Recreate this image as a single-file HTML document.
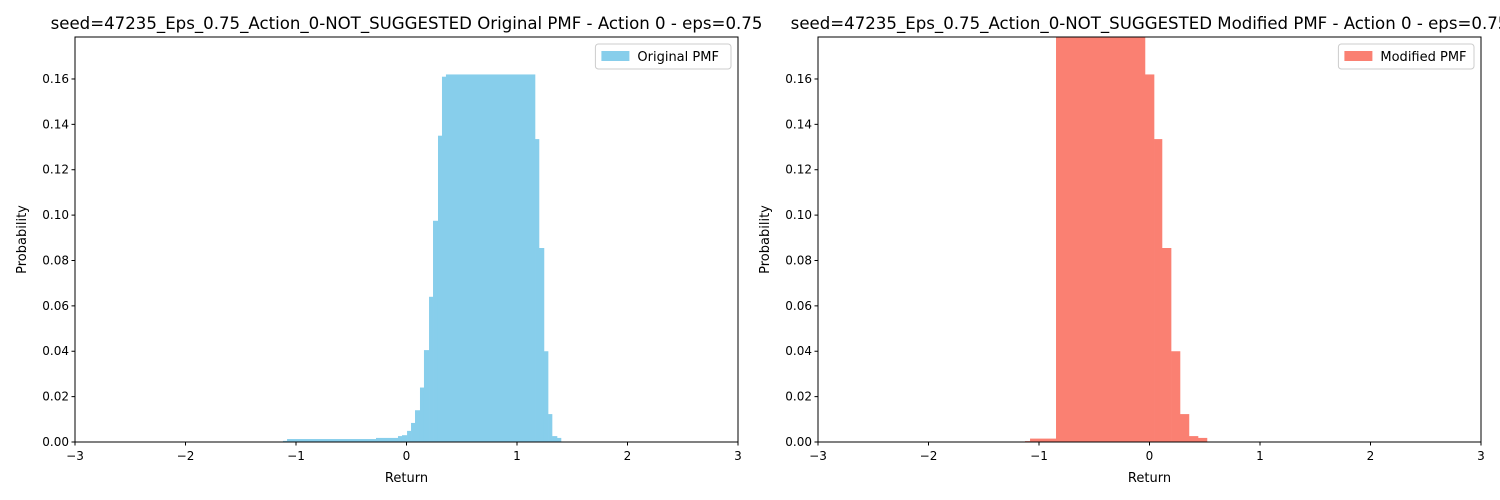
<!DOCTYPE html>
<html><head><meta charset="utf-8"><style>
html,body{margin:0;padding:0;background:#fff;width:1500px;height:500px;overflow:hidden}
svg{display:block;font-family:"DejaVu Sans","Liberation Sans",sans-serif}
</style></head><body>
<svg id="chart" width="1500" height="500"></svg>
<script>
const yTicks=[0,0.02,0.04,0.06,0.08,0.10,0.12,0.14,0.16];
const yTickLabels=["0.00","0.02","0.04","0.06","0.08","0.10","0.12","0.14","0.16"];
const xTicks=[-3,-2,-1,0,1,2,3];
const xTickLabels=["\u22123","\u22122","\u22121","0","1","2","3"];
const origLeft=[-1.118,-1.081,-0.276,-0.077,-0.041,0.005,0.041,0.077,0.122,0.158,0.204,0.240,0.285,0.321,0.357,1.163,1.199,1.244,1.281,1.317,1.362];
const origRight=[-1.081,-0.276,-0.077,-0.041,0.005,0.041,0.077,0.122,0.158,0.204,0.240,0.285,0.321,0.357,1.163,1.199,1.244,1.281,1.317,1.362,1.398];
const origProb=[0.0005,0.0013,0.0018,0.0026,0.003,0.0049,0.0084,0.014,0.024,0.0405,0.064,0.0975,0.135,0.161,0.162,0.1335,0.0855,0.040,0.0123,0.0026,0.0018];
const modLeft=[-1.127,-1.081,-0.846,-0.041,0.041,0.113,0.195,0.276,0.357,0.439];
const modRight=[-1.081,-0.846,-0.041,0.041,0.113,0.195,0.276,0.357,0.439,0.520];
const modProb=[0.0004,0.0015,0.25,0.162,0.1335,0.0855,0.040,0.0123,0.0026,0.0018];

const NS="http://www.w3.org/2000/svg";
const svg=document.getElementById('chart');
function mk(tag,attrs,parent){const e=document.createElementNS(NS,tag);for(const k in attrs)e.setAttribute(k,attrs[k]);(parent||svg).appendChild(e);return e;}
const Y0=442,Y1=37,YMAX=0.1785;
function panel(x0,x1,lefts,rights,probs,color,title,legendLabel,prefix){
  const g=mk('g',{});
  
  
  const sx=v=>x0+(v+3)/6*(x1-x0);
  const sy=v=>Y0-v/YMAX*(Y0-Y1);
  const cp=mk('clipPath',{id:prefix+'clip'},g);
  mk('rect',{x:x0,y:Y1,width:x1-x0,height:Y0-Y1},cp);
  const bars=mk('g',{'clip-path':'url(#'+prefix+'clip)'},g);
  for(let i=0;i<probs.length;i++){
    const r=mk('rect',{x:sx(lefts[i]),y:sy(probs[i]),width:sx(rights[i])-sx(lefts[i])+0.3,height:Y0-sy(probs[i]),fill:color},bars);
    
    
  }
  mk('rect',{x:x0,y:Y1,width:x1-x0,height:Y0-Y1,fill:'none',stroke:'#000','stroke-width':1},g);
  yTicks.forEach((t,i)=>{
    const y=sy(t);
    mk('line',{x1:x0-3.5,x2:x0,y1:y,y2:y,stroke:'#000'},g);
    const tx=mk('text',{x:x0-6,y:y+4,'font-size':12,'text-anchor':'end'},g);
    tx.textContent=yTickLabels[i];
    
    
  });
  xTicks.forEach((t,i)=>{
    const x=sx(t);
    mk('line',{x1:x,x2:x,y1:Y0,y2:Y0+3.5,stroke:'#000'},g);
    const tx=mk('text',{x:x,y:Y0+18,'font-size':12,'text-anchor':'middle'},g);
    tx.textContent=xTickLabels[i];
    
    
  });
  const xt=mk('text',{x:(x0+x1)/2,y:482,'font-size':13,'text-anchor':'middle'},g);
  xt.textContent='Return';
  
  
  const yt=mk('text',{x:0,y:0,'font-size':13,'text-anchor':'middle',transform:'translate('+(x0-49)+','+((Y0+Y1)/2)+') rotate(-90)'},g);
  yt.textContent='Probability';
  
  
  const tt=mk('text',{x:(x0+x1)/2,y:29,'font-size':16.6,'text-anchor':'middle'},g);
  tt.textContent=title;
  
  
  const lw=legendLabel.length*7.3+48;
  const lg=mk('g',{},g);
  
  
  mk('rect',{x:x1-7-lw,y:44,width:lw,height:25,rx:3,fill:'#fff',stroke:'#ccc'},lg);
  mk('rect',{x:x1-7-lw+6,y:51,width:28,height:10,fill:color},lg);
  const lt=mk('text',{x:x1-7-lw+42,y:61,'font-size':13},lg);
  lt.textContent=legendLabel;
  
  
}
panel(75,738,origLeft,origRight,origProb,'#87ceeb','seed=47235_Eps_0.75_Action_0-NOT_SUGGESTED Original PMF - Action 0 - eps=0.75','Original PMF','original');
panel(818,1481,modLeft,modRight,modProb,'#fa8072','seed=47235_Eps_0.75_Action_0-NOT_SUGGESTED Modified PMF - Action 0 - eps=0.75','Modified PMF','modified');
</script>
</body></html>
